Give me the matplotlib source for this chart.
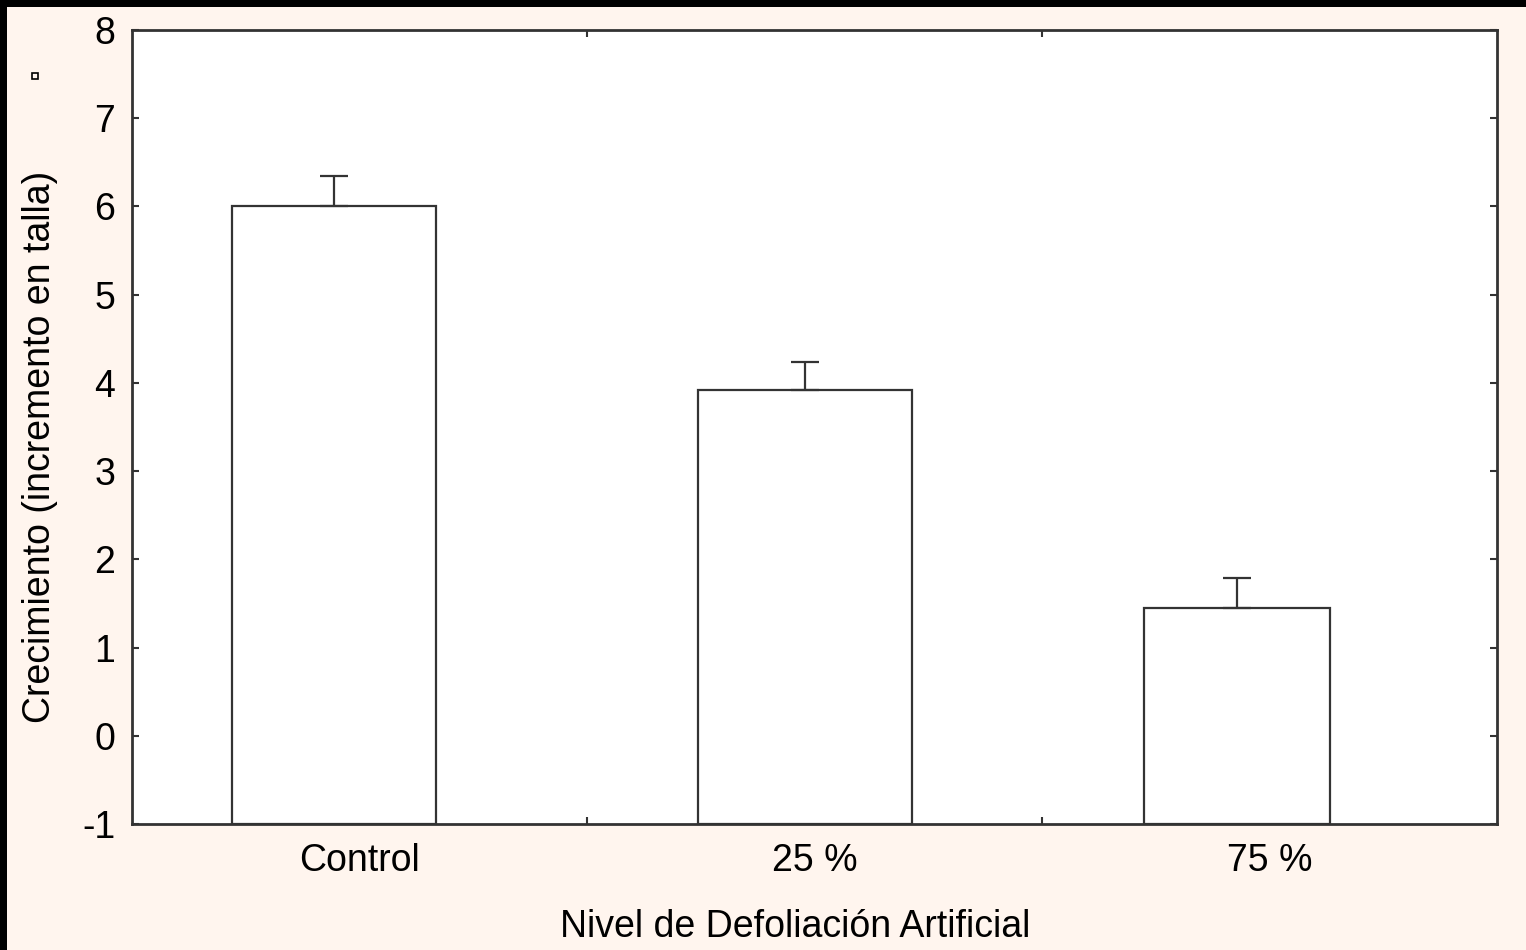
import matplotlib
matplotlib.use("Agg")
import matplotlib.pyplot as plt
from matplotlib.patches import Rectangle
import numpy as np

# Data
categories = ["Control", "25 %", "75 %"]
means = [6.01, 3.92, 1.45]
upper_err = [0.34, 0.32, 0.34]

# Per-bar layout (offset from category centre, bar width), in category units
bar_offsets = [-0.056, -0.021, -0.071]
bar_widths = [0.448, 0.470, 0.409]

y_min, y_max = -1, 8
bg = "#FFF5EE"
ink = "#333333"

plt.rcParams["font.family"] = ["Liberation Sans", "DejaVu Sans"]
plt.rcParams["axes.unicode_minus"] = False

fig = plt.figure(figsize=(15.26, 9.5), dpi=100, facecolor=bg)
ax = fig.add_axes([132 / 1526, 1 - 824 / 950, (1497 - 132) / 1526, (824 - 30) / 950])
ax.set_facecolor("white")

x = np.arange(len(categories))
xc = x + np.array(bar_offsets)
heights = np.array(means) - y_min
ax.bar(xc, heights, width=bar_widths, bottom=y_min, color="white",
       edgecolor=ink, linewidth=1.6, zorder=2)
ax.errorbar(xc, means, yerr=[np.zeros(len(means)), upper_err], fmt="none",
            ecolor=ink, elinewidth=1.6, capsize=10, capthick=1.6, zorder=3)

ax.set_xlim(-0.5, len(categories) - 0.5)
ax.set_ylim(y_min, y_max)
ax.set_yticks(range(y_min, y_max + 1))
ax.set_xticks(x)
ax.set_xticklabels(categories)
ax.set_xticks(x[:-1] + 0.5, minor=True)

ax.tick_params(axis="x", which="major", length=0, pad=14, labelsize=27)
ax.tick_params(axis="x", which="minor", direction="in", length=5, width=1.5,
               top=True, bottom=True, color=ink)
ax.tick_params(axis="y", which="major", direction="in", length=5, width=1.5,
               left=True, right=True, pad=12, labelsize=27, color=ink)
for s in ax.spines.values():
    s.set_linewidth(2)
    s.set_color(ink)

ax.set_xlabel("Nivel de Defoliación Artificial", fontsize=27, labelpad=21)
ax.set_ylabel("Crecimiento (incremento en talla)", fontsize=27, labelpad=17)
ax.xaxis.label.set_x(0.486)
ax.yaxis.label.set_y(0.475)

# Dark frame along the top and left edges
fig.patches.append(Rectangle((0, 1 - 7 / 950), 1, 7 / 950, transform=fig.transFigure,
                             facecolor="black", edgecolor="none"))
fig.patches.append(Rectangle((0, 0), 7 / 1526, 1, transform=fig.transFigure,
                             facecolor="black", edgecolor="none"))
# Small hollow square marker
fig.add_artist(plt.Line2D([35 / 1526], [1 - 76 / 950], transform=fig.transFigure,
                          marker="s", markersize=4, markerfacecolor="none",
                          markeredgecolor="black", markeredgewidth=1.2, linestyle="none"))

fig.savefig("out.png", dpi=100, facecolor=bg)
